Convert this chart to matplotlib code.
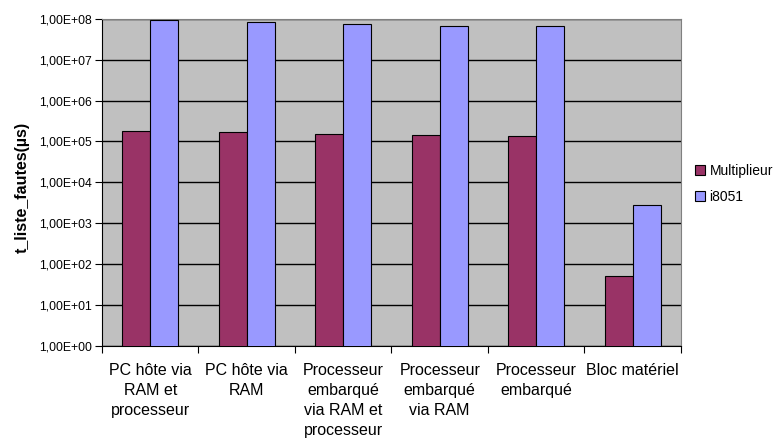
import matplotlib
matplotlib.use("Agg")
import matplotlib.pyplot as plt
import numpy as np
from matplotlib.ticker import FixedLocator, FuncFormatter, NullLocator

plt.rcParams['font.family'] = ['Liberation Sans', 'DejaVu Sans']

categories = [
    "PC hôte via\nRAM et\nprocesseur",
    "PC hôte via\nRAM",
    "Processeur\nembarqué\nvia RAM et\nprocesseur",
    "Processeur\nembarqué\nvia RAM",
    "Processeur\nembarqué",
    "Bloc matériel",
]
series_names = ["Multiplieur", "i8051"]
multiplieur = [1.84e5, 1.68e5, 1.52e5, 1.44e5, 1.37e5, 50]
i8051 = [9.3e7, 8.3e7, 7.6e7, 6.9e7, 6.9e7, 2.7e3]
y_label = "t_liste_fautes(µs)"

colors = ["#993366", "#9999FF"]

fig = plt.figure(figsize=(7.77, 4.41), dpi=100)
ax = fig.add_axes([102 / 777, 1 - 345.5 / 441, 579 / 777, 326.5 / 441])
ax.set_facecolor("#C0C0C0")

x = np.arange(len(categories))
bw = 0.29
ax.bar(x - bw / 2, multiplieur, bw, color=colors[0], edgecolor="black",
       linewidth=0.8, label=series_names[0], zorder=3)
ax.bar(x + bw / 2, i8051, bw, color=colors[1], edgecolor="black",
       linewidth=0.8, label=series_names[1], zorder=3)

ax.set_yscale("log")
ax.set_ylim(1, 1e8)
ax.set_xlim(-0.5, len(categories) - 0.5)
ax.yaxis.set_major_locator(FixedLocator([10.0 ** k for k in range(9)]))
ax.yaxis.set_minor_locator(NullLocator())
ax.yaxis.set_major_formatter(
    FuncFormatter(lambda v, p: "1,00E+%02d" % int(round(np.log10(v)))))
ax.grid(axis="y", color="black", linewidth=1.0, zorder=1)

# Category labels centred in each slot, ticks on slot boundaries
ax.set_xticks(np.arange(len(categories) + 1) - 0.5)
ax.set_xticklabels([])
ax.tick_params(axis="x", length=5, direction="out", color="black")
ax.tick_params(axis="y", length=5, direction="out", color="black",
               labelsize=8.8, pad=2)
for i, lab in enumerate(categories):
    ax.text(i, -0.054, lab, transform=ax.get_xaxis_transform(),
            ha="center", va="top", fontsize=11.5, linespacing=1.42)

for s in ["top", "right"]:
    ax.spines[s].set_color("#808080")
for s in ["left", "bottom"]:
    ax.spines[s].set_color("black")

fig.text(22 / 777, 1 - 187 / 441, y_label, rotation=90, ha="center",
         va="center", fontsize=11.5, fontweight="bold")

leg = fig.legend(loc="center left", bbox_to_anchor=(695 / 777, 1 - 184 / 441),
                 frameon=False, fontsize=10, handlelength=0.7,
                 handleheight=0.7, handletextpad=0.35, labelspacing=0.85,
                 borderaxespad=0, borderpad=0)

fig.savefig("out.png", dpi=100)
